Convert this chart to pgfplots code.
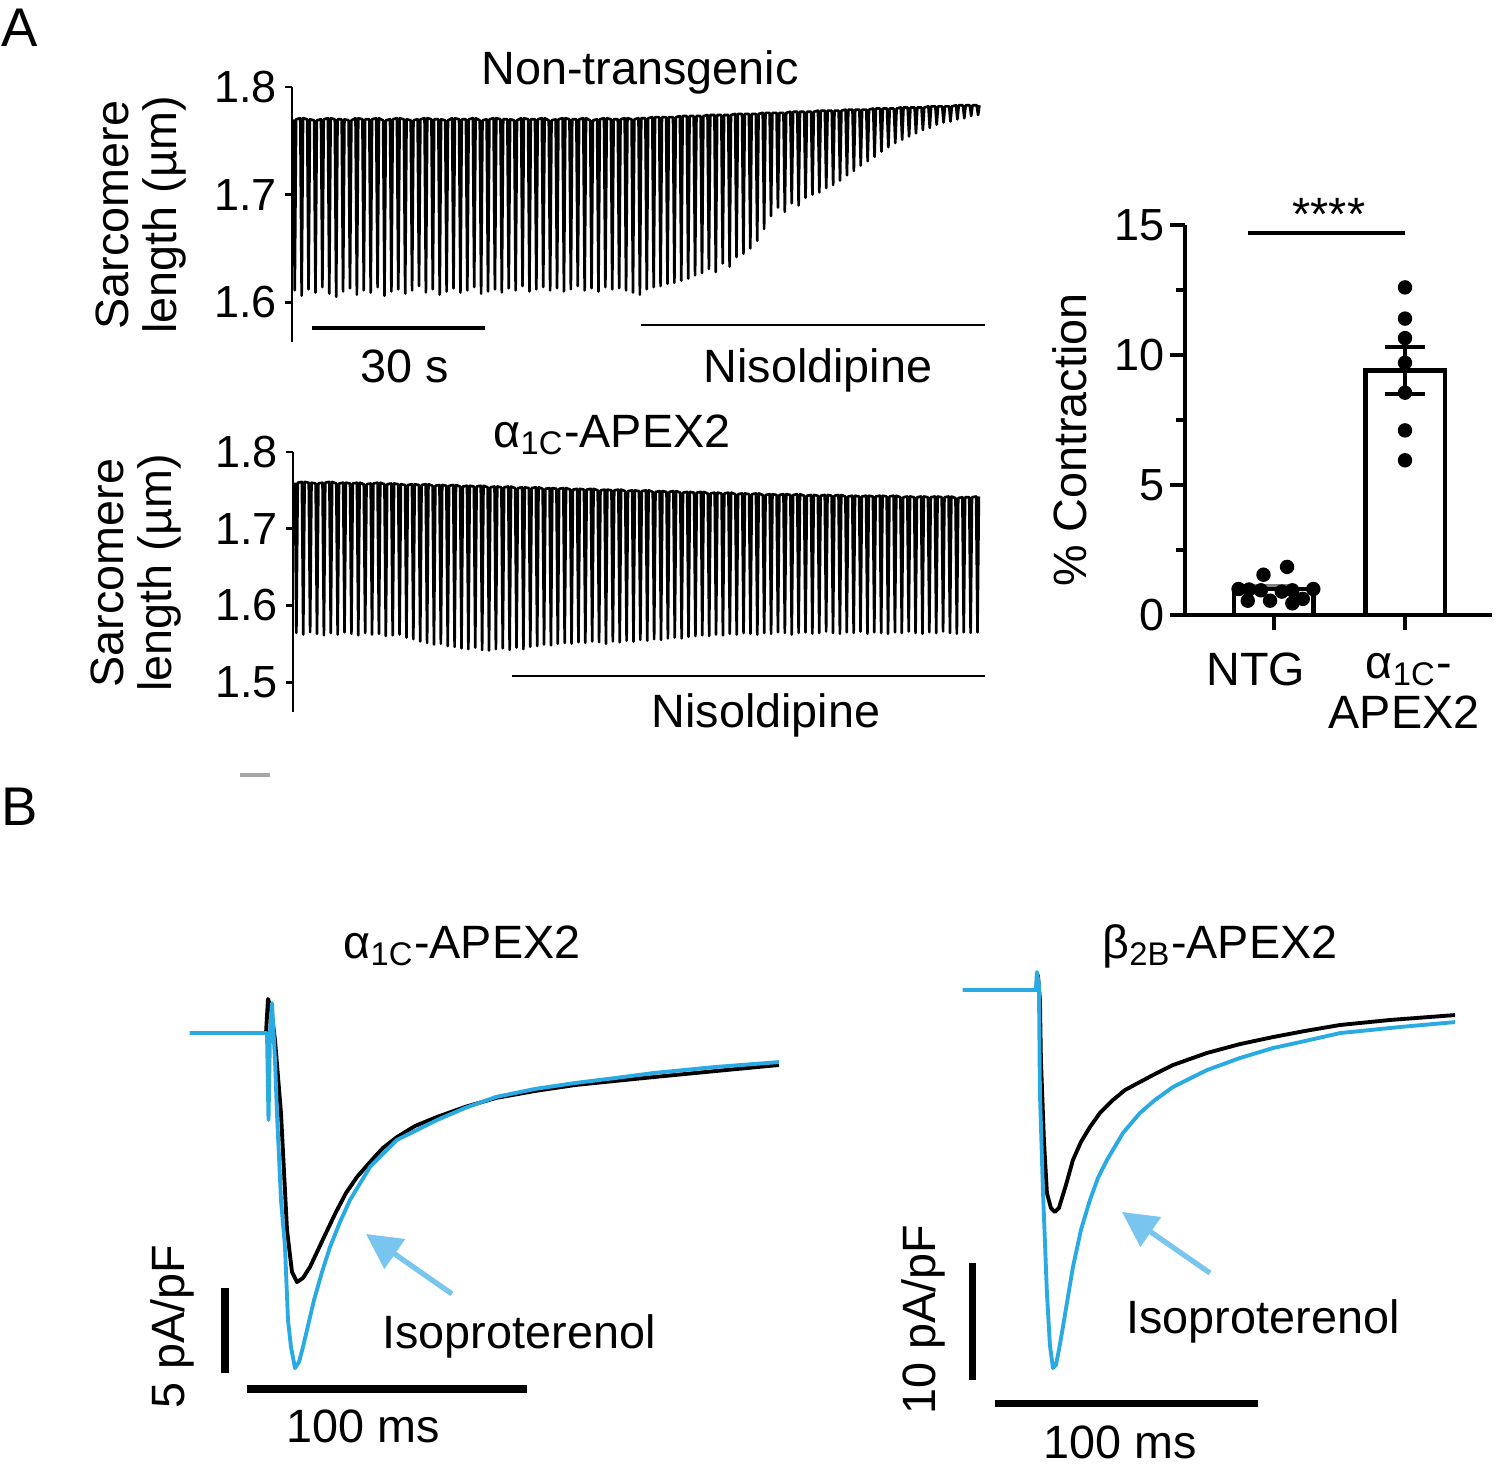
\documentclass[border=0pt]{standalone}
\usepackage{fontspec}
\setmainfont{Liberation Sans}
\usepackage{pgfplots}
\pgfplotsset{compat=1.18}
\usetikzlibrary{arrows.meta}
\definecolor{iso}{RGB}{41,170,226}
\definecolor{arr}{RGB}{120,198,240}
\newcommand\fs{\fontsize{13.3}{13.6}\selectfont}
\newcommand\tfs{\fontsize{12.8}{13.6}\selectfont}
\newcommand\bigfs{\fontsize{15.5}{16}\selectfont}
\begin{document}
\begin{tikzpicture}
\path[use as bounding box] (0,0) rectangle (15cm,-14.66cm);
\pgfplotsset{
  trace/.style={scale only axis, anchor=south west, axis x line=none, axis y line*=left,
    axis line style={line width=0.8pt,-}, tick align=outside, major tick length=0.07cm,
    tick style={line width=0.8pt, black}, tick label style={font=\tfs},
    /pgf/number format/assume math mode=true, clip=false,
    yticklabel style={inner xsep=2.2pt, /pgf/number format/fixed, /pgf/number format/precision=1, /pgf/number format/fixed zerofill}},
}
% ---------- Panel A, Non-transgenic ----------
\begin{axis}[trace, at={(2.92cm,-3.42cm)}, width=6.93cm, height=2.55cm,
  xmin=-0.2, xmax=100.2, ymin=1.563, ymax=1.8, ytick={1.6,1.7,1.8}]
\addplot[black, line width=0.75pt, line join=round] coordinates {
(0,1.770)(0.2,1.611)(0.4,1.770)(1,1.771)(1.2,1.606)(1.4,1.771)(2,1.770)(2.2,1.612)(2.4,1.770)(3,1.769)(3.2,1.609)(3.4,1.769)(4,1.770)(4.2,1.614)(4.4,1.770)(5,1.771)(5.2,1.608)(5.4,1.771)(6,1.770)(6.2,1.605)(6.4,1.770)(7,1.770)(7.2,1.610)(7.4,1.770)(8,1.769)(8.2,1.613)(8.4,1.769)(9,1.771)(9.2,1.607)(9.4,1.771)
(10,1.770)(10.2,1.611)(10.4,1.770)(11,1.770)(11.2,1.609)(11.4,1.770)(12,1.771)(12.2,1.614)(12.4,1.771)(13,1.769)(13.2,1.606)(13.4,1.769)(14,1.770)(14.2,1.610)(14.4,1.770)(15,1.771)(15.2,1.612)(15.4,1.771)(16,1.770)(16.2,1.608)(16.4,1.770)(17,1.769)(17.2,1.611)(17.4,1.769)(18,1.770)(18.2,1.615)(18.4,1.770)(19,1.771)(19.2,1.609)(19.4,1.771)
(20,1.770)(20.2,1.612)(20.4,1.770)(21,1.770)(21.2,1.607)(21.4,1.770)(22,1.769)(22.2,1.610)(22.4,1.769)(23,1.771)(23.2,1.613)(23.4,1.771)(24,1.770)(24.2,1.609)(24.4,1.770)(25,1.770)(25.2,1.611)(25.4,1.770)(26,1.771)(26.2,1.614)(26.4,1.771)(27,1.769)(27.2,1.608)(27.4,1.769)(28,1.770)(28.2,1.610)(28.4,1.770)(29,1.771)(29.2,1.612)(29.4,1.771)
(30,1.770)(30.2,1.609)(30.4,1.770)(31,1.770)(31.2,1.613)(31.4,1.770)(32,1.769)(32.2,1.611)(32.4,1.769)(33,1.771)(33.2,1.615)(33.4,1.771)(34,1.770)(34.2,1.610)(34.4,1.770)(35,1.770)(35.2,1.612)(35.4,1.770)(36,1.771)(36.2,1.614)(36.4,1.771)(37,1.769)(37.2,1.611)(37.4,1.769)(38,1.770)(38.2,1.613)(38.4,1.770)(39,1.771)(39.2,1.610)(39.4,1.771)
(40,1.770)(40.2,1.612)(40.4,1.770)(41,1.770)(41.2,1.615)(41.4,1.770)(42,1.771)(42.2,1.611)(42.4,1.771)(43,1.769)(43.2,1.613)(43.4,1.769)(44,1.770)(44.2,1.610)(44.4,1.770)(45,1.771)(45.2,1.614)(45.4,1.771)(46,1.770)(46.2,1.612)(46.4,1.770)(47,1.770)(47.2,1.613)(47.4,1.770)(48,1.771)(48.2,1.611)(48.4,1.771)(49,1.770)(49.2,1.609)(49.4,1.770)
(50,1.771)(50.2,1.607)(50.4,1.771)(51,1.771)(51.2,1.612)(51.4,1.771)(52,1.772)(52.2,1.614)(52.4,1.772)(53,1.772)(53.2,1.615)(53.4,1.772)(54,1.772)(54.2,1.617)(54.4,1.772)(55,1.772)(55.2,1.618)(55.4,1.772)(56,1.773)(56.2,1.620)(56.4,1.773)(57,1.773)(57.2,1.622)(57.4,1.773)(58,1.773)(58.2,1.625)(58.4,1.773)(59,1.773)(59.2,1.627)(59.4,1.773)
(60,1.774)(60.2,1.631)(60.4,1.774)(61,1.774)(61.2,1.628)(61.4,1.774)(62,1.774)(62.2,1.636)(62.4,1.774)(63,1.774)(63.2,1.633)(63.4,1.774)(64,1.775)(64.2,1.642)(64.4,1.775)(65,1.775)(65.2,1.645)(65.4,1.775)(66,1.775)(66.2,1.650)(66.4,1.775)(67,1.775)(67.2,1.657)(67.4,1.775)(68,1.776)(68.2,1.668)(68.4,1.776)(69,1.776)(69.2,1.680)(69.4,1.776)
(70,1.776)(70.2,1.688)(70.4,1.776)(71,1.776)(71.2,1.684)(71.4,1.776)(72,1.777)(72.2,1.692)(72.4,1.777)(73,1.777)(73.2,1.690)(73.4,1.777)(74,1.777)(74.2,1.697)(74.4,1.777)(75,1.777)(75.2,1.700)(75.4,1.777)(76,1.778)(76.2,1.702)(76.4,1.778)(77,1.778)(77.2,1.706)(77.4,1.778)(78,1.778)(78.2,1.709)(78.4,1.778)(79,1.778)(79.2,1.713)(79.4,1.778)
(80,1.779)(80.2,1.718)(80.4,1.779)(81,1.779)(81.2,1.722)(81.4,1.779)(82,1.779)(82.2,1.727)(82.4,1.779)(83,1.779)(83.2,1.731)(83.4,1.779)(84,1.780)(84.2,1.735)(84.4,1.780)(85,1.780)(85.2,1.740)(85.4,1.780)(86,1.780)(86.2,1.744)(86.4,1.780)(87,1.780)(87.2,1.748)(87.4,1.780)(88,1.781)(88.2,1.751)(88.4,1.781)(89,1.781)(89.2,1.754)(89.4,1.781)
(90,1.781)(90.2,1.757)(90.4,1.781)(91,1.781)(91.2,1.760)(91.4,1.781)(92,1.782)(92.2,1.762)(92.4,1.782)(93,1.782)(93.2,1.765)(93.4,1.782)(94,1.782)(94.2,1.767)(94.4,1.782)(95,1.782)(95.2,1.768)(95.4,1.782)(96,1.783)(96.2,1.770)(96.4,1.783)(97,1.783)(97.2,1.771)(97.4,1.783)(98,1.783)(98.2,1.773)(98.4,1.783)(99,1.783)(99.2,1.774)(99.4,1.783)
};
\addplot[black, line width=1pt] coordinates {(2.7,1.5758)(27.76,1.5758)};
\addplot[black, line width=0.7pt] coordinates {(50.37,1.5786)(100.2,1.5786)};
\end{axis}
% ---------- Panel A, alpha1C-APEX2 ----------
\begin{axis}[trace, at={(2.93cm,-7.12cm)}, width=6.92cm, height=2.60cm,
  xmin=-0.29, xmax=100.29, ymin=1.461, ymax=1.8, ytick={1.5,1.6,1.7,1.8}]
\addplot[black, line width=0.75pt, line join=round] coordinates {
(0,1.760)(0.2,1.564)(0.4,1.760)(1,1.761)(1.2,1.562)(1.4,1.761)(2,1.760)(2.2,1.565)(2.4,1.760)(3,1.759)(3.2,1.563)(3.4,1.759)(4,1.760)(4.2,1.561)(4.4,1.760)(5,1.761)(5.2,1.564)(5.4,1.761)(6,1.759)(6.2,1.562)(6.4,1.759)(7,1.760)(7.2,1.565)(7.4,1.760)(8,1.759)(8.2,1.563)(8.4,1.759)(9,1.760)(9.2,1.561)(9.4,1.760)
(10,1.758)(10.2,1.564)(10.4,1.758)(11,1.759)(11.2,1.562)(11.4,1.759)(12,1.760)(12.2,1.563)(12.4,1.760)(13,1.758)(13.2,1.560)(13.4,1.758)(14,1.759)(14.2,1.561)(14.4,1.759)(15,1.758)(15.2,1.562)(15.4,1.758)(16,1.757)(16.2,1.558)(16.4,1.757)(17,1.758)(17.2,1.556)(17.4,1.758)(18,1.757)(18.2,1.553)(18.4,1.757)(19,1.758)(19.2,1.551)(19.4,1.758)
(20,1.756)(20.2,1.549)(20.4,1.756)(21,1.757)(21.2,1.550)(21.4,1.757)(22,1.756)(22.2,1.547)(22.4,1.756)(23,1.757)(23.2,1.546)(23.4,1.757)(24,1.755)(24.2,1.544)(24.4,1.755)(25,1.756)(25.2,1.543)(25.4,1.756)(26,1.755)(26.2,1.545)(26.4,1.755)(27,1.756)(27.2,1.542)(27.4,1.756)(28,1.754)(28.2,1.541)(28.4,1.754)(29,1.755)(29.2,1.543)(29.4,1.755)
(30,1.754)(30.2,1.544)(30.4,1.754)(31,1.755)(31.2,1.542)(31.4,1.755)(32,1.753)(32.2,1.545)(32.4,1.753)(33,1.754)(33.2,1.543)(33.4,1.754)(34,1.753)(34.2,1.546)(34.4,1.753)(35,1.754)(35.2,1.547)(35.4,1.754)(36,1.752)(36.2,1.549)(36.4,1.752)(37,1.753)(37.2,1.548)(37.4,1.753)(38,1.752)(38.2,1.550)(38.4,1.752)(39,1.753)(39.2,1.551)(39.4,1.753)
(40,1.751)(40.2,1.550)(40.4,1.751)(41,1.752)(41.2,1.552)(41.4,1.752)(42,1.751)(42.2,1.551)(42.4,1.751)(43,1.752)(43.2,1.553)(43.4,1.752)(44,1.750)(44.2,1.552)(44.4,1.750)(45,1.751)(45.2,1.550)(45.4,1.751)(46,1.750)(46.2,1.553)(46.4,1.750)(47,1.751)(47.2,1.552)(47.4,1.751)(48,1.749)(48.2,1.554)(48.4,1.749)(49,1.750)(49.2,1.553)(49.4,1.750)
(50,1.749)(50.2,1.555)(50.4,1.749)(51,1.750)(51.2,1.554)(51.4,1.750)(52,1.748)(52.2,1.556)(52.4,1.748)(53,1.749)(53.2,1.555)(53.4,1.749)(54,1.748)(54.2,1.557)(54.4,1.748)(55,1.749)(55.2,1.558)(55.4,1.749)(56,1.747)(56.2,1.557)(56.4,1.747)(57,1.748)(57.2,1.559)(57.4,1.748)(58,1.747)(58.2,1.560)(58.4,1.747)(59,1.748)(59.2,1.561)(59.4,1.748)
(60,1.746)(60.2,1.560)(60.4,1.746)(61,1.747)(61.2,1.562)(61.4,1.747)(62,1.746)(62.2,1.561)(62.4,1.746)(63,1.747)(63.2,1.563)(63.4,1.747)(64,1.745)(64.2,1.562)(64.4,1.745)(65,1.746)(65.2,1.564)(65.4,1.746)(66,1.745)(66.2,1.563)(66.4,1.745)(67,1.746)(67.2,1.562)(67.4,1.746)(68,1.744)(68.2,1.564)(68.4,1.744)(69,1.745)(69.2,1.563)(69.4,1.745)
(70,1.744)(70.2,1.565)(70.4,1.744)(71,1.745)(71.2,1.564)(71.4,1.745)(72,1.744)(72.2,1.562)(72.4,1.744)(73,1.745)(73.2,1.564)(73.4,1.745)(74,1.743)(74.2,1.565)(74.4,1.743)(75,1.744)(75.2,1.563)(75.4,1.744)(76,1.743)(76.2,1.564)(76.4,1.743)(77,1.744)(77.2,1.566)(77.4,1.744)(78,1.743)(78.2,1.564)(78.4,1.743)(79,1.744)(79.2,1.563)(79.4,1.744)
(80,1.742)(80.2,1.565)(80.4,1.742)(81,1.743)(81.2,1.564)(81.4,1.743)(82,1.742)(82.2,1.566)(82.4,1.742)(83,1.743)(83.2,1.563)(83.4,1.743)(84,1.742)(84.2,1.565)(84.4,1.742)(85,1.743)(85.2,1.564)(85.4,1.743)(86,1.742)(86.2,1.563)(86.4,1.742)(87,1.743)(87.2,1.565)(87.4,1.743)(88,1.741)(88.2,1.564)(88.4,1.741)(89,1.742)(89.2,1.566)(89.4,1.742)
(90,1.741)(90.2,1.564)(90.4,1.741)(91,1.742)(91.2,1.563)(91.4,1.742)(92,1.741)(92.2,1.565)(92.4,1.741)(93,1.742)(93.2,1.564)(93.4,1.742)(94,1.741)(94.2,1.566)(94.4,1.741)(95,1.742)(95.2,1.564)(95.4,1.742)(96,1.740)(96.2,1.563)(96.4,1.740)(97,1.741)(97.2,1.565)(97.4,1.741)(98,1.741)(98.2,1.564)(98.4,1.741)(99,1.742)(99.2,1.565)(99.4,1.742)
};
\addplot[black, line width=0.7pt] coordinates {(31.54,1.508)(100.29,1.508)};
\end{axis}
% ---------- Panel A, bar chart ----------
\begin{axis}[scale only axis, anchor=south west, at={(11.85cm,-6.15cm)}, width=3.07cm, height=3.90cm,
  xmin=-0.679, xmax=1.664, ymin=0, ymax=15, clip=false,
  axis x line*=bottom, axis y line*=left, axis line style={line width=1pt,-},
  tick align=outside, major tick length=0.15cm, minor tick length=0.09cm,
  tick style={line width=1pt, black},
  ytick={0,5,10,15}, minor ytick={2.5,7.5,12.5}, xtick={0,1}, xticklabels={},
  tick label style={font=\tfs}, yticklabel style={inner xsep=1.4pt}, /pgf/number format/assume math mode=true]
\addplot[ybar, bar width=0.61, fill=white, draw=black, line width=1.4pt] coordinates {(0,1.0)(1,9.4)};
\addplot[black, line width=1.1pt] coordinates {(1,8.5)(1,10.3)};
\addplot[black, line width=1.1pt] coordinates {(0.845,10.3)(1.155,10.3)};
\addplot[black, line width=1.1pt] coordinates {(0.845,8.5)(1.155,8.5)};
\addplot[gray, line width=0.8pt] coordinates {(-0.155,1.12)(0.155,1.12)};
\addplot[only marks, mark=*, mark size=1.85pt, black] coordinates {
(-0.27,1.0)(-0.19,0.98)(-0.2,0.55)(-0.03,0.55)(0.06,0.9)(0.14,0.95)(0.14,0.45)(0.22,0.62)(0.3,1.0)(-0.08,1.55)(0.1,1.85)(-0.1,0.95)};
\addplot[only marks, mark=*, mark size=1.85pt, black] coordinates {
(1,12.6)(1,11.4)(1,10.65)(1,9.7)(1,8.55)(1,7.1)(1,5.95)};
\addplot[black, line width=1pt] coordinates {(-0.2,14.7)(1,14.7)};
\end{axis}
% ---------- Panel B left ----------
\begin{axis}[scale only axis, anchor=south west, at={(1.84cm,-14.58cm)}, width=6.16cm, height=4.76cm,
  xmin=-30, xmax=190, ymin=-25, ymax=3, hide axis, clip=false]
\addplot[black, line width=1.1pt, line join=round] coordinates {
(-27.86,0)(-0.71,0)(0,2.0)(1.07,1.47)(2.5,-0.41)(4.64,-4.71)(6.79,-11.59)(8.57,-14.06)(10.36,-14.65)(12.5,-14.41)(15.0,-13.76)(17.86,-12.76)(20.71,-11.76)(24.29,-10.53)(27.86,-9.41)(31.79,-8.47)(36.43,-7.59)(41.07,-6.76)(46.07,-6.12)(52.5,-5.47)(60.36,-4.94)(70.36,-4.35)(81.43,-3.82)(95.36,-3.41)(109.64,-3.06)(123.93,-2.82)(137.86,-2.59)(159.64,-2.24)(182.5,-1.88)};
\addplot[iso, line width=1.1pt, line join=round] coordinates {
(-27.86,0)(-0.36,0)(0.18,-5.12)(0.71,0)(1.43,1.76)(2.5,-1.59)(3.21,-4.71)(4.64,-9.82)(6.07,-12.59)(7.14,-16.88)(8.21,-18.47)(9.64,-19.71)(11.07,-19.35)(12.5,-18.47)(16.43,-15.71)(19.29,-14.06)(22.14,-12.59)(25.71,-11.12)(29.29,-9.82)(36.43,-7.88)(46.07,-6.29)(60.36,-5.12)(70.36,-4.41)(81.43,-3.76)(95.36,-3.29)(109.64,-2.94)(123.93,-2.65)(137.86,-2.35)(159.64,-2.0)(182.5,-1.71)};
\addplot[black, line width=2pt] coordinates {(-15.36,-15)(-15.36,-20)};
\addplot[black, line width=2pt] coordinates {(-7.5,-20.94)(92.5,-20.94)};
\draw[arr, line width=1.5pt, -{Triangle[length=10pt,width=10pt]}] (axis cs:65.7,-15.35) -- (axis cs:35.0,-11.82);
\end{axis}
% ---------- Panel B right ----------
\begin{axis}[scale only axis, anchor=south west, at={(9.59cm,-14.58cm)}, width=5.13cm, height=4.914cm,
  xmin=-30, xmax=165, ymin=-40, ymax=2, hide axis, clip=false]
\addplot[black, line width=1.1pt, line join=round] coordinates {
(-28.52,0)(-0.76,0)(0,1.28)(0.76,-0.85)(1.14,-5.98)(2.28,-12.82)(3.42,-17.35)(4.94,-18.63)(6.46,-18.97)(7.98,-18.63)(10.65,-16.67)(13.31,-14.53)(16.35,-12.99)(19.77,-11.71)(23.57,-10.51)(28.52,-9.40)(33.08,-8.55)(38.78,-7.86)(44.49,-7.18)(51.33,-6.41)(64.26,-5.38)(76.81,-4.62)(89.35,-4.02)(101.52,-3.50)(114.83,-2.99)(133.84,-2.56)(158.56,-2.14)};
\addplot[iso, line width=1.1pt, line join=round] coordinates {
(-28.52,0)(-0.76,0)(-0.38,1.54)(0.38,0.43)(0.76,-8.80)(1.90,-17.09)(3.42,-25.90)(4.56,-30.34)(5.70,-32.31)(6.84,-32.05)(7.98,-30.77)(9.51,-28.80)(11.41,-26.24)(13.31,-23.68)(16.35,-20.51)(19.77,-17.95)(22.81,-16.07)(26.24,-14.53)(32.32,-12.22)(38.78,-10.51)(44.49,-9.40)(51.33,-8.29)(64.26,-6.84)(76.81,-5.81)(89.35,-4.96)(101.52,-4.36)(114.83,-3.68)(137.64,-3.16)(158.56,-2.74)};
\addplot[black, line width=2pt] coordinates {(-24.71,-23.33)(-24.71,-33.33)};
\addplot[black, line width=2pt] coordinates {(-16.35,-35.3)(83.65,-35.3)};
\draw[arr, line width=1.5pt, -{Triangle[length=10pt,width=10pt]}] (axis cs:65.4,-24.19) -- (axis cs:31.94,-18.97);
\end{axis}
% ---------- text ----------
\node[font=\bigfs, anchor=base west, inner sep=0pt] at (0.01cm,-0.46cm) {A};
\node[font=\bigfs, anchor=base west, inner sep=0pt] at (0.01cm,-8.25cm) {B};
\node[font=\fs, anchor=base] at (6.40cm,-0.84cm) {Non-transgenic};
\node[font=\fs, anchor=base] at (4.05cm,-3.82cm) {30 s};
\node[font=\fs, anchor=base] at (8.18cm,-3.82cm) {Nisoldipine};
\node[font=\fs, anchor=base] at (6.12cm,-4.47cm) {α\textsubscript{1C}-APEX2};
\node[font=\fs, anchor=base] at (7.66cm,-7.27cm) {Nisoldipine};
\node[font=\fs, rotate=90, align=center] at (1.41cm,-2.15cm) {Sarcomere\\length (µm)};
\node[font=\fs, rotate=90, align=center] at (1.36cm,-5.73cm) {Sarcomere\\length (µm)};
\node[font=\fs, rotate=90] at (10.70cm,-4.40cm) {\% Contraction};
\node[font=\fs, anchor=base] at (13.29cm,-2.30cm) {****};
\node[font=\fs, anchor=base] at (12.56cm,-6.85cm) {NTG};
\node[font=\fs, anchor=base, inner ysep=0pt] at (14.09cm,-6.78cm) {α\textsubscript{1C}-};
\node[font=\fs, anchor=base, inner ysep=0pt] at (14.04cm,-7.28cm) {APEX2};
\node[font=\fs, anchor=base] at (4.62cm,-9.58cm) {α\textsubscript{1C}-APEX2};
\node[font=\fs, anchor=base] at (12.20cm,-9.58cm) {β\textsubscript{2B}-APEX2};
\node[font=\fs, anchor=base] at (5.19cm,-13.48cm) {Isoproterenol};
\node[font=\fs, anchor=base] at (12.63cm,-13.33cm) {Isoproterenol};
\node[font=\fs, anchor=base] at (3.63cm,-14.42cm) {100 ms};
\node[font=\fs, anchor=base, inner sep=0pt] at (11.20cm,-14.58cm) {100 ms};
\node[font=\fs, rotate=90] at (1.72cm,-13.27cm) {5 pA/pF};
\node[font=\fs, rotate=90] at (9.23cm,-13.20cm) {10 pA/pF};
\draw[gray!70, line width=1pt] (2.40cm,-7.75cm) -- (2.70cm,-7.75cm);
\end{tikzpicture}
\end{document}
